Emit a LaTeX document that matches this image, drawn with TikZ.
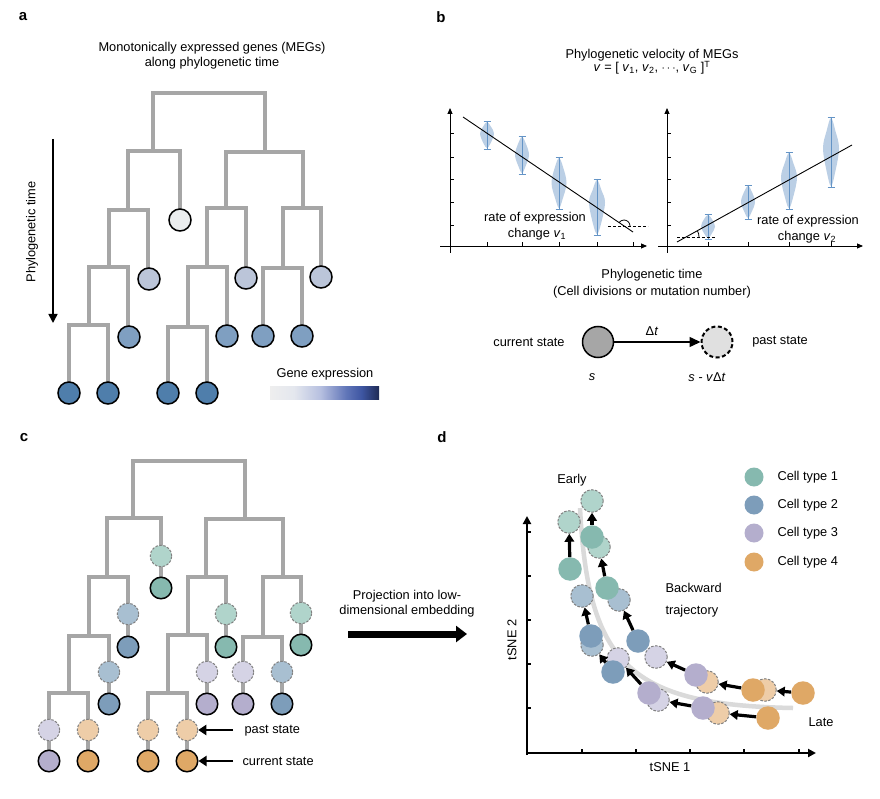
\documentclass[tikz,border=0pt]{standalone}
\usepackage{fontspec}
\setmainfont{Liberation Sans}
\usetikzlibrary{arrows.meta}
\definecolor{treegray}{HTML}{A6A6A6}
\definecolor{ca0}{HTML}{EBEDEE}
\definecolor{ca1}{HTML}{BBC5D9}
\definecolor{ca2}{HTML}{7F9FC1}
\definecolor{ca3}{HTML}{4F7EAB}
\definecolor{teal1}{HTML}{86B9AF}
\definecolor{teal2}{HTML}{B0D4CB}
\definecolor{blue1}{HTML}{7D9DBA}
\definecolor{blue2}{HTML}{A8BFD1}
\definecolor{purp1}{HTML}{B4AECD}
\definecolor{purp2}{HTML}{D5D3E5}
\definecolor{orng1}{HTML}{DFA866}
\definecolor{orng2}{HTML}{EECDA8}
\definecolor{dashgray}{HTML}{808080}
\definecolor{vfill}{HTML}{BBCFE5}
\definecolor{vline}{HTML}{6494C6}
\definecolor{trajgray}{HTML}{DADADA}
\definecolor{g0}{HTML}{EEEEEE}
\definecolor{g1}{HTML}{E4E7EE}
\definecolor{g2}{HTML}{B7C0E0}
\definecolor{g3}{HTML}{6075B8}
\definecolor{g4}{HTML}{3E56A2}
\definecolor{g5}{HTML}{1E2A55}
\pgfdeclarehorizontalshading{geneexp}{100bp}{color(0bp)=(g0); color(25bp)=(g0); color(36bp)=(g1); color(48bp)=(g2); color(60bp)=(g3); color(67bp)=(g4); color(75bp)=(g5); color(100bp)=(g5)}
\newcommand{\violin}[5]{%
  \fill[vfill] plot[smooth cycle, tension=0.6] coordinates {
    (#1,{#2+1}) ({#1+0.55*#4},{#2+0.2*(#3-#2)}) ({#1+#4},{#2+#5*(#3-#2)})
    ({#1+0.5*#4},{#2+0.8*(#3-#2)}) (#1,{#3-1})
    ({#1-0.5*#4},{#2+0.8*(#3-#2)}) ({#1-#4},{#2+#5*(#3-#2)})
    ({#1-0.55*#4},{#2+0.2*(#3-#2)})};
  \draw[vline, line width=0.9pt] (#1,#2) -- (#1,#3) ({#1-3.5},#2) -- ({#1+3.5},#2) ({#1-3.5},#3) -- ({#1+3.5},#3);
}
\begin{document}
\begin{tikzpicture}[x=1pt,y=-1pt,font=\fontsize{12.8}{15}\selectfont,
  tree/.style={draw=treegray,line width=3.4pt},
  plabel/.style={font=\fontsize{15}{18}\selectfont\bfseries},
  acirc/.style={circle,draw=black,line width=1.5pt,minimum size=22pt,inner sep=0pt,fill=#1},
  ccur/.style={circle,draw=black,line width=1.5pt,minimum size=21.5pt,inner sep=0pt,fill=#1},
  cpast/.style={circle,draw=dashgray,line width=1pt,dash pattern=on 2.5pt off 1.5pt,minimum size=21.5pt,inner sep=0pt,fill=#1},
  dcur/.style={circle,minimum size=23.5pt,inner sep=0pt,fill=#1},
  dpast/.style={circle,draw=dashgray,line width=1pt,dash pattern=on 2.5pt off 1.5pt,minimum size=22.5pt,inner sep=0pt,fill=#1},
  legc/.style={circle,minimum size=19pt,inner sep=0pt,fill=#1},
  axb/.style={line width=0.9pt,-{Triangle[length=6pt,width=5pt]}},
  axd/.style={line width=2pt,-{Triangle[length=8pt,width=8pt]}},
  darr/.style={line width=3.2pt,-{Triangle[length=8pt,width=9.5pt]}},
  carr/.style={line width=2.8pt,-{Triangle[length=8pt,width=10pt]}},
  refl/.style={line width=0.9pt,dash pattern=on 3pt off 2pt}]
\useasboundingbox (0,0) rectangle (880,799);
\fill[white] (0,0) rectangle (880,799);

% ================= panel a =================
\node[plabel] (la) at (23,17) {a};
\node[align=center] (ta) at (212,55.5) {Monotonically expressed genes (MEGs)\\along phylogenetic time};
\draw[tree] (153,151) -- (153,93) -- (265,93) -- (265,152);
\draw[tree] (128,210) -- (128,151) -- (180,151) -- (180,220);
\draw[tree] (109,267) -- (109,210) -- (148,210) -- (148,279);
\draw[tree] (89,325) -- (89,267) -- (128,267) -- (128,337);
\draw[tree] (69,393) -- (69,325) -- (108,325) -- (108,393);
\draw[tree] (226,208) -- (226,152) -- (303,152) -- (303,208);
\draw[tree] (207,267) -- (207,208) -- (246,208) -- (246,278);
\draw[tree] (188,327) -- (188,267) -- (227,267) -- (227,336);
\draw[tree] (168,393) -- (168,327) -- (207,327) -- (207,393);
\draw[tree] (283,268) -- (283,208) -- (321,208) -- (321,277);
\draw[tree] (263,336) -- (263,268) -- (302,268) -- (302,336);
\node[acirc=ca0] (a0) at (180,220) {};
\node[acirc=ca1] (a11) at (149,279) {};
\node[acirc=ca1] (a12) at (246,278) {};
\node[acirc=ca1] (a13) at (321,277) {};
\node[acirc=ca2] (a21) at (129,337) {};
\node[acirc=ca2] (a22) at (227,336) {};
\node[acirc=ca2] (a23) at (263,336) {};
\node[acirc=ca2] (a24) at (302,336) {};
\node[acirc=ca3] (a31) at (69,393) {};
\node[acirc=ca3] (a32) at (108,393) {};
\node[acirc=ca3] (a33) at (168,393) {};
\node[acirc=ca3] (a34) at (207,393) {};
\coordinate (ptA) at (53,139);
\coordinate (ptB) at (53,323);
\draw[line width=1.7pt,-{Triangle[length=9pt,width=9pt]}] (ptA) -- (ptB);
\node[rotate=90] (ptlab) at (32,232) {Phylogenetic time};
\node (gelab) at (325,374) {Gene expression};
\shade[shading=geneexp] (270,386) rectangle (379,399);

% ================= panel b =================
\node[plabel] (lb) at (441,17) {b};
\node (tb1) at (652,55) {Phylogenetic velocity of MEGs};
\node (tb2) at (652,67.5) {\textit{v} = [ \textit{v}\textsubscript{1}, \textit{v}\textsubscript{2}, $\cdots$, \textit{v}\textsubscript{G} ]\textsuperscript{T}};
% left plot
\draw[axb] (450,253) -- (450,108);
\draw[axb] (440,246) -- (647,246);
\foreach \y in {133,157,179,202,225} \draw[line width=0.8pt] (450,\y) -- (454,\y);
\foreach \x in {487,522,559,597,633} \draw[line width=0.8pt] (\x,246) -- (\x,242);
\violin{487}{121}{149}{7}{0.45}
\violin{522}{136}{174}{7}{0.5}
\violin{559}{157}{209}{7.5}{0.5}
\violin{597}{179}{235}{8}{0.42}
\draw[line width=0.9pt] (463,117) -- (633,232);
\draw[refl] (608,226) -- (648,226);
\draw[line width=0.8pt] (630,226) arc[start angle=0,end angle=146,radius=6pt];
\node (rl1) at (535,218) {rate of expression};
\node (rl2) at (537,234) {change \textit{v}\textsubscript{1}};
% right plot
\draw[axb] (667,253) -- (667,108);
\draw[axb] (658,246) -- (863,246);
\foreach \y in {133,157,179,202,225} \draw[line width=0.8pt] (667,\y) -- (671,\y);
\foreach \x in {708,748,789,831} \draw[line width=0.8pt] (\x,246) -- (\x,242);
\violin{708}{214}{239}{7}{0.5}
\violin{748}{185}{219}{7}{0.5}
\violin{789}{152}{209}{8}{0.45}
\violin{831}{117}{187}{8}{0.45}
\draw[line width=0.9pt] (677,242) -- (852,145);
\draw[refl] (677,237) -- (715,237);
\draw[line width=0.8pt] (699,237) arc[start angle=0,end angle=29,radius=13pt];
\node (rr1) at (808,221) {rate of expression};
\node (rr2) at (807,237) {change \textit{v}\textsubscript{2}};
% state
\node (pt1) at (652,275) {Phylogenetic time};
\node (pt2) at (652,292) {(Cell divisions or mutation number)};
\node[circle,draw=black,line width=1.5pt,fill=treegray,minimum size=31pt,inner sep=0pt] (scur) at (598,342) {};
\node[circle,draw=black,line width=2pt,dash pattern=on 4pt off 2.5pt,fill=black!12,minimum size=31pt,inner sep=0pt] (spast) at (717,342) {};
\draw[line width=1.5pt,-{Triangle[length=11pt,width=10pt]}] (scur) -- (spast);
\node (dt) at (652,331) {Δ\textit{t}};
\node (curlab) at (529,342) {current state};
\node (pastlab) at (780,342) {past state};
\node (slab) at (592,377) {\textit{s}};
\node (svlab) at (707,377) {\textit{s - v}Δ\textit{t}};

% ================= panel c =================
\node[plabel] (lc) at (24,438) {c};
\draw[tree] (133,518) -- (133,461) -- (245,461) -- (245,519);
\draw[tree] (107,577) -- (107,518) -- (161,518) -- (161,588);
\draw[tree] (89,636) -- (89,577) -- (128,577) -- (128,647);
\draw[tree] (69,693) -- (69,636) -- (109,636) -- (109,704);
\draw[tree] (49,761) -- (49,693) -- (88,693) -- (88,761);
\draw[tree] (206,577) -- (206,519) -- (283,519) -- (283,577);
\draw[tree] (188,635) -- (188,577) -- (226,577) -- (226,647);
\draw[tree] (168,693) -- (168,635) -- (207,635) -- (207,704);
\draw[tree] (148,761) -- (148,693) -- (187,693) -- (187,761);
\draw[tree] (263,637) -- (263,577) -- (301,577) -- (301,645);
\draw[tree] (243,704) -- (243,637) -- (282,637) -- (282,704);
\foreach \x/\yp/\yc/\c [count=\i] in {161/556/588/teal, 128/614/647/blue, 109/672/704/blue, 49/730/761/purp, 88/730/761/orng, 226/614/647/teal, 207/672/704/purp, 148/730/761/orng, 187/730/761/orng, 301/613/645/teal, 243/672/704/purp, 282/672/704/blue}{
  \node[cpast=\c2] (cp\i) at (\x,\yp) {};
  \node[ccur=\c1] (cc\i) at (\x,\yc) {};
}
\coordinate (pa1) at (233,730);
\coordinate (ca1) at (233,761);
\draw[carr] (pa1) -- (cp9.east);
\draw[carr] (ca1) -- (cc9.east);
\node[anchor=west] (pslab) at (241,731) {past state};
\node[anchor=west] (cslab) at (239,761) {current state};
\node[align=center] (proj) at (407,604) {Projection into low-\\dimensional embedding};
\coordinate (prA) at (348,634);
\coordinate (prB) at (467,634);
\draw[line width=7pt,-{Triangle[length=11pt,width=16pt]}] (prA) -- (prB);

% ================= panel d =================
\node[plabel] (ld) at (442,437) {d};
\draw[axd] (527,755) -- (527,516);
\draw[axd] (526,753) -- (816,753);
\foreach \y in {532,576,620,664,708} \draw[line width=1.2pt] (527,\y) -- (531,\y);
\foreach \x in {582,636,690,744,799} \draw[line width=1.2pt] (\x,753) -- (\x,749);
\node (tx) at (670,767) {tSNE 1};
\node[rotate=90] (ty) at (512,640) {tSNE 2};
\node (early) at (572,480) {Early};
\node (late) at (821,722) {Late};
\node[anchor=west] (bw1) at (662,588) {Backward};
\node[anchor=west] (bw2) at (662,611) {trajectory};
\draw[trajgray,line width=4.5pt] (580,508) .. controls (588,665) and (630,705) .. (793,708);
\node[dpast=teal2] (P1) at (592,501) {};
\node[dpast=teal2] (P2) at (569,522) {};
\node[dpast=teal2] (P3) at (599,547) {};
\node[dpast=blue2] (P4) at (619,600) {};
\node[dpast=blue2] (P5) at (582,596) {};
\node[dpast=blue2] (P6) at (592,645) {};
\node[dpast=purp2] (P7) at (618,659) {};
\node[dpast=purp2] (P8) at (656,657) {};
\node[dpast=purp2] (P9) at (658,700) {};
\node[dpast=orng2] (P10) at (707,682) {};
\node[dpast=orng2] (P11) at (718,713) {};
\node[dpast=orng2] (P12) at (765,690) {};
\node[dcur=teal1] (C1) at (570,569) {};
\node[dcur=teal1] (C2) at (592,537) {};
\node[dcur=teal1] (C3) at (607,588) {};
\node[dcur=blue1] (C4) at (591,636) {};
\node[dcur=blue1] (C5) at (638,641) {};
\node[dcur=blue1] (C6) at (613,672) {};
\node[dcur=purp1] (C7) at (649,693) {};
\node[dcur=purp1] (C8) at (696,675) {};
\node[dcur=purp1] (C9) at (703,708) {};
\node[dcur=orng1] (C10) at (753,690) {};
\node[dcur=orng1] (C11) at (803,693) {};
\node[dcur=orng1] (C12) at (768,718) {};
\draw[darr] (C1) -- (P2);
\draw[darr] (C2) -- (P1);
\draw[darr] (C3) -- (P3);
\draw[darr] (C4) -- (P5);
\draw[darr] (C5) -- (P4);
\draw[darr] (C6) -- (P6);
\draw[darr] (C7) -- (P7);
\draw[darr] (C8) -- (P8);
\draw[darr] (C9) -- (P9);
\draw[darr] (C10) -- (P10);
\draw[darr] (C11) -- (P12);
\draw[darr] (C12) -- (P11);
\node[legc=teal1] (L1) at (754,477) {};
\node[legc=blue1] (L2) at (754,505) {};
\node[legc=purp1] (L3) at (754,533) {};
\node[legc=orng1] (L4) at (754,562) {};
\node[anchor=west] (LT1) at (774,477) {Cell type 1};
\node[anchor=west] (LT2) at (774,505) {Cell type 2};
\node[anchor=west] (LT3) at (774,533) {Cell type 3};
\node[anchor=west] (LT4) at (774,562) {Cell type 4};
\end{tikzpicture}
\end{document}
